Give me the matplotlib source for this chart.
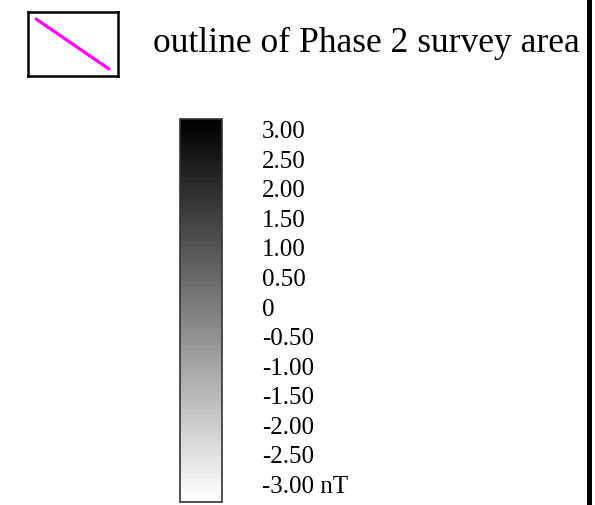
import numpy as np
import matplotlib.pyplot as plt
import matplotlib as mpl
from matplotlib.lines import Line2D

plt.rcParams['font.family'] = ['Liberation Serif', 'DejaVu Serif']

# legend entry
legend_label = 'outline of Phase 2 survey area'
legend_color = '#ff00ff'

# colour scale (nT), top to bottom
scale_values = [3.0, 2.5, 2.0, 1.5, 1.0, 0.5, 0.0, -0.5, -1.0, -1.5, -2.0, -2.5, -3.0]
scale_labels = ['3.00', '2.50', '2.00', '1.50', '1.00', '0.50', '0',
                '-0.50', '-1.00', '-1.50', '-2.00', '-2.50', '-3.00 nT']

W, H = 595, 505
fig = plt.figure(figsize=(W / 100, H / 100), dpi=100)

def px(x0, y0, x1, y1):
    # pixel box (top-left origin) -> figure fraction rect
    return [x0 / W, 1 - y1 / H, (x1 - x0) / W, (y1 - y0) / H]

# legend symbol box
lax = fig.add_axes(px(28, 12, 118, 76))
lax.set_xlim(0, 1)
lax.set_ylim(0, 1)
lax.set_xticks([])
lax.set_yticks([])
for s in lax.spines.values():
    s.set_linewidth(1.8)
lax.plot([0.09, 0.9], [0.89, 0.11], color=legend_color, lw=2.3, solid_capstyle='round')
fig.text(153 / W, 1 - 52 / H, legend_label, fontsize=25.6, va='baseline', ha='left')

# grey scale bar
cax = fig.add_axes(px(180, 119, 222, 502))
cmap = plt.get_cmap('gray_r').resampled(66)
norm = mpl.colors.Normalize(vmin=min(scale_values), vmax=max(scale_values))
cb = mpl.colorbar.ColorbarBase(cax, cmap=cmap, norm=norm, orientation='vertical')
cb.set_ticks([])
cb.outline.set_linewidth(1.2)
cb.outline.set_edgecolor('#333333')

# labels next to bar
n = len(scale_labels)
y_top, y_bot = 138, 493
for i, lab in enumerate(scale_labels):
    yb = y_top + (y_bot - y_top) * i / (n - 1)
    fig.text(262 / W, 1 - yb / H, lab, fontsize=18, va='baseline', ha='left')

# right frame edge
fig.add_artist(Line2D([588.5 / W, 588.5 / W], [0, 1], color='black', lw=3.6,
                      transform=fig.transFigure))

fig.savefig('out.png', dpi=100)
